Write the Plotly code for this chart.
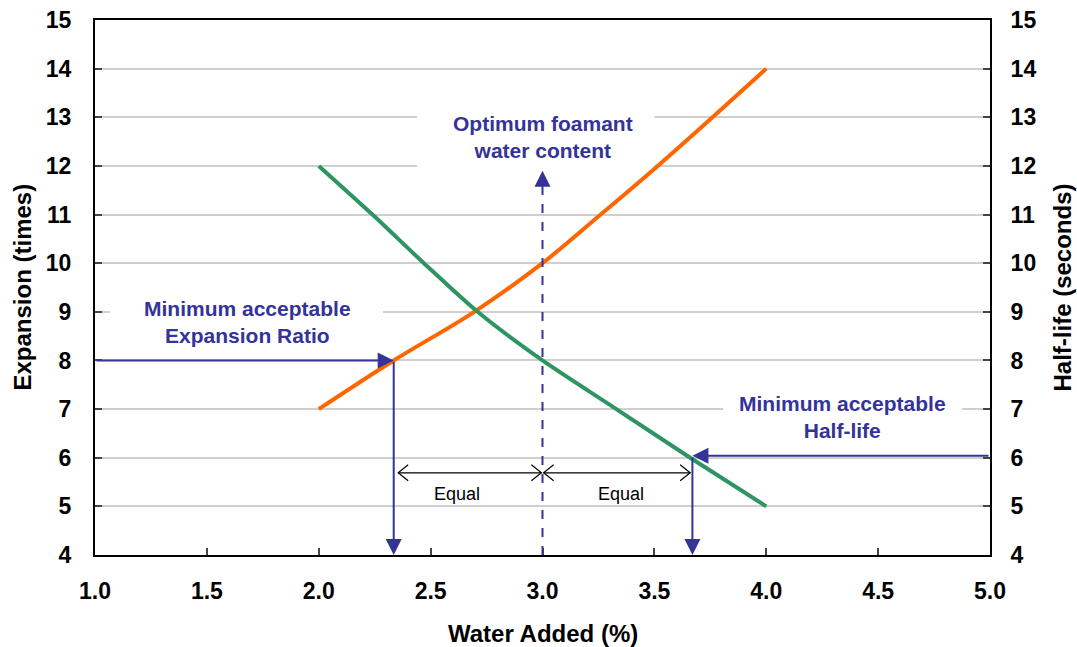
import plotly.graph_objects as go

# ---- data ----
water_added_exp = [2.0, 2.335, 2.695, 3.0, 3.26, 3.515, 3.76, 4.0]
expansion = [7, 8, 9, 10, 11, 12, 13, 14]
water_added_half = [2.0, 2.24, 2.47, 2.71, 3.0, 3.33, 3.66, 4.0]
half_life = [12, 11, 10, 9, 8, 7, 6, 5]

x_ticks = [1.0, 1.5, 2.0, 2.5, 3.0, 3.5, 4.0, 4.5, 5.0]
y_ticks = list(range(4, 16))

min_expansion = 8
min_halflife = 6.04
x_min_exp = 2.335
x_min_half = 3.67
x_opt = 3.0
equal_y = 5.69
equal_label_y = 5.25

BLUE = "#333399"
FONT = "Liberation Sans, Arial, sans-serif"

fig = go.Figure()
fig.add_trace(go.Scatter(x=water_added_exp, y=expansion, mode="lines",
                         line=dict(color="#FF6600", width=4, shape="spline", smoothing=1.0),
                         yaxis="y", showlegend=False, hoverinfo="skip"))
fig.add_trace(go.Scatter(x=water_added_half, y=half_life, mode="lines",
                         line=dict(color="#2E9462", width=4, shape="spline", smoothing=0.8),
                         yaxis="y2", showlegend=False, hoverinfo="skip"))

shapes = []
# white boxes hiding gridlines behind texts
for (x0, x1, y0, y1) in [(1.067, 2.287, 8.3, 9.6), (2.44, 3.50, 11.8, 13.5), (3.807, 4.875, 6.3, 7.6)]:
    shapes.append(dict(type="rect", xref="x", yref="y", x0=x0, x1=x1, y0=y0, y1=y1,
                       fillcolor="white", line=dict(width=0), layer="between"))
# dashed optimum line
shapes.append(dict(type="line", xref="x", yref="y", x0=x_opt, x1=x_opt, y0=4, y1=11.7,
                   line=dict(color=BLUE, width=2, dash="dash")))
# equal double arrows (lines)
shapes.append(dict(type="line", xref="x", yref="y", x0=x_min_exp + 0.02, x1=x_opt - 0.005,
                   y0=equal_y, y1=equal_y, line=dict(color="black", width=1.2)))
shapes.append(dict(type="line", xref="x", yref="y", x0=x_opt + 0.005, x1=x_min_half - 0.01,
                   y0=equal_y, y1=equal_y, line=dict(color="black", width=1.2)))
# open V arrowheads
def vhead(xa, direction):
    d = 10 * direction
    return dict(type="path", xref="x", yref="y", xsizemode="pixel", ysizemode="pixel",
                xanchor=xa, yanchor=equal_y,
                path=f"M {d},8 L 0,0 L {d},-8", line=dict(color="black", width=1.2))
shapes.append(vhead(x_min_exp + 0.02, 1))
shapes.append(vhead(x_opt - 0.005, -1))
shapes.append(vhead(x_opt + 0.005, 1))
shapes.append(vhead(x_min_half - 0.01, -1))

ann = []
def label(x, y, text, size=21):
    ann.append(dict(x=x, y=y, xref="x", yref="y", text=f"<b>{text}</b>", showarrow=False,
                    font=dict(family=FONT, size=size, color=BLUE), align="center"))
label(1.68, 8.79, "Minimum acceptable<br>Expansion Ratio")
label(x_opt, 12.6, "Optimum foamant<br>water content")
label(4.34, 6.83, "Minimum acceptable<br>Half-life")
for xx in [2.62, 3.35]:
    ann.append(dict(x=xx, y=equal_label_y, xref="x", yref="y", text="Equal", showarrow=False,
                    font=dict(family=FONT, size=18, color="black")))

def arrow(hx, hy, tx, ty):
    ann.append(dict(x=hx, y=hy, ax=tx, ay=ty, xref="x", yref="y", axref="x", ayref="y",
                    text="", showarrow=True, arrowhead=2, arrowsize=1.6, arrowwidth=2,
                    arrowcolor=BLUE, standoff=0))
arrow(x_min_exp, min_expansion, 1.0, min_expansion)
arrow(x_min_exp, 4.0, x_min_exp, min_expansion)
arrow(x_min_half, 4.0, x_min_half, min_halflife)
arrow(x_min_half, min_halflife, 5.0, min_halflife)
arrow(x_opt, 11.9, x_opt, 11.6)

# axis titles
ann.append(dict(x=0.5, y=0, xref="paper", yref="paper", yanchor="middle", yshift=-78,
                text="<b>Water Added (%)</b>", showarrow=False,
                font=dict(family=FONT, size=24, color="black")))
ann.append(dict(x=0, y=0.5, xref="paper", yref="paper", xanchor="center", xshift=-73,
                text="<b>Expansion (times)</b>", textangle=-90, showarrow=False,
                font=dict(family=FONT, size=24, color="black")))
ann.append(dict(x=1, y=0.5, xref="paper", yref="paper", xanchor="center", xshift=72,
                text="<b>Half-life (seconds)</b>", textangle=-90, showarrow=False,
                font=dict(family=FONT, size=24, color="black")))

tickfont = dict(family=FONT, size=23, color="black", weight="bold")
fig.update_layout(
    width=1077, height=647,
    margin=dict(l=95, r=87, t=20, b=92),
    paper_bgcolor="white", plot_bgcolor="white",
    shapes=shapes, annotations=ann,
    xaxis=dict(range=[1, 5], tickvals=x_ticks, ticktext=[f"{v:.1f}" for v in x_ticks],
               ticks="inside", ticklen=7, tickcolor="#444", tickwidth=1.5,
               showline=True, linecolor="black", linewidth=2, mirror=True,
               showgrid=False, zeroline=False, tickfont=tickfont, ticklabelstandoff=14,
               automargin=False),
    yaxis=dict(range=[4, 15], tickvals=y_ticks, ticks="inside", ticklen=7, tickcolor="#444",
               tickwidth=1.5, showline=True, linecolor="black", linewidth=2,
               showgrid=True, gridcolor="#cfcfcf", gridwidth=1.5, zeroline=False,
               tickfont=tickfont, ticklabelstandoff=17, automargin=False),
    yaxis2=dict(range=[4, 15], tickvals=y_ticks, overlaying="y", side="right",
                ticks="inside", ticklen=7, tickcolor="#444", tickwidth=1.5,
                showline=True, linecolor="black", linewidth=2, showgrid=False,
                zeroline=False, tickfont=tickfont, ticklabelstandoff=14, automargin=False),
)
fig.write_html("out.html", config={"displayModeBar": False},
               post_script="document.body.style.margin='0';")
